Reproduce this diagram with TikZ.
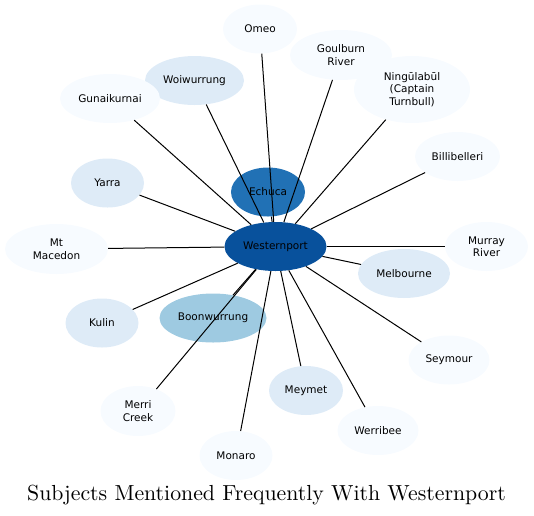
\documentclass[tikz,border=0pt]{standalone}
\usepackage{fontspec}
\setsansfont{DejaVu Sans}
\newfontfamily\titlefont{lmroman10-regular.otf}
\usepackage{tikz}
\usetikzlibrary{shapes.geometric}
\definecolor{blues9}{HTML}{08519C}
\definecolor{blues7}{HTML}{2171B5}
\definecolor{blues4}{HTML}{9ECAE1}
\definecolor{blues2}{HTML}{DEEBF7}
\definecolor{blues1}{HTML}{F7FBFF}
\tikzset {
    x=1pt, y=-1pt,
    subject/.style={ellipse, draw=none, fill=blues1, inner sep=0pt,
        minimum width=74pt, minimum height=49pt, align=center,
        font=\sffamily\fontsize{10.5}{12.5}\selectfont},
    link/.style={draw=black, line width=1pt}
}

\begin{document}
\begin{tikzpicture}
    \useasboundingbox (0,0) rectangle (534,515);

    \node[subject, fill=blues9] (westernport) at (275.5,246.5) [minimum width=102pt] {Westernport};

    \node[subject] (omeo) at (260,29) {Omeo};
    \node[subject, minimum width=102pt, minimum height=50pt] (goulburn) at (341,55) {Goulburn\\River};
    \node[subject, minimum width=116pt, minimum height=67pt] (ningulabul) at (412,89.5) {Ningūlabūl\\(Captain\\Turnbull)};
    \node[subject, fill=blues2, minimum width=99pt] (woiwurrung) at (194.5,80.5) {Woiwurrung};
    \node[subject, minimum width=100pt] (gunaikurnai) at (110,98.5) {Gunaikurnai};
    \node[subject, minimum width=85pt] (billibelleri) at (457.5,156.5) {Billibelleri};
    \node[subject, fill=blues7] (echuca) at (268,192) {Echuca};
    \node[subject, fill=blues2, minimum width=73pt] (yarra) at (107.5,183) {Yarra};
    \node[subject, minimum width=103pt, minimum height=50pt] (macedon) at (56.5,249) {Mt\\Macedon};
    \node[subject, minimum width=83pt] (murray) at (486.5,246.5) {Murray\\River};
    \node[subject, fill=blues2, minimum width=92pt] (melbourne) at (404,273.5) {Melbourne};
    \node[subject, fill=blues2, minimum width=73pt] (kulin) at (102,323) {Kulin};
    \node[subject, fill=blues4, minimum width=107pt] (boonwurrung) at (213,318) {Boonwurrung};
    \node[subject, minimum width=81pt] (seymour) at (449,360) {Seymour};
    \node[subject, fill=blues2] (meymet) at (306,390.5) {Meymet};
    \node[subject, minimum width=75pt, minimum height=50pt] (merri) at (138,411) {Merri\\Creek};
    \node[subject, minimum width=81pt] (werribee) at (378,430.5) {Werribee};
    \node[subject, minimum width=73pt] (monaro) at (236,455.5) {Monaro};

    \draw[link]
    (westernport) edge (omeo)
    (westernport) edge (goulburn)
    (westernport) edge (ningulabul)
    (westernport) edge (woiwurrung)
    (westernport) edge (gunaikurnai)
    (westernport) edge (billibelleri)
    (westernport) edge (echuca)
    (westernport) edge (yarra)
    (westernport) edge (macedon)
    (westernport) edge (murray)
    (westernport) edge (melbourne)
    (westernport) edge (kulin)
    (westernport) edge (boonwurrung)
    (westernport) edge (seymour)
    (westernport) edge (meymet)
    (westernport) edge (merri)
    (westernport) edge (werribee)
    (westernport) edge (monaro);

    \node[anchor=base, inner sep=0pt, font=\titlefont\fontsize{21.8}{26}\selectfont] (title) at (266.5,500) {Subjects Mentioned Frequently With Westernport};
\end{tikzpicture}
\end{document}
